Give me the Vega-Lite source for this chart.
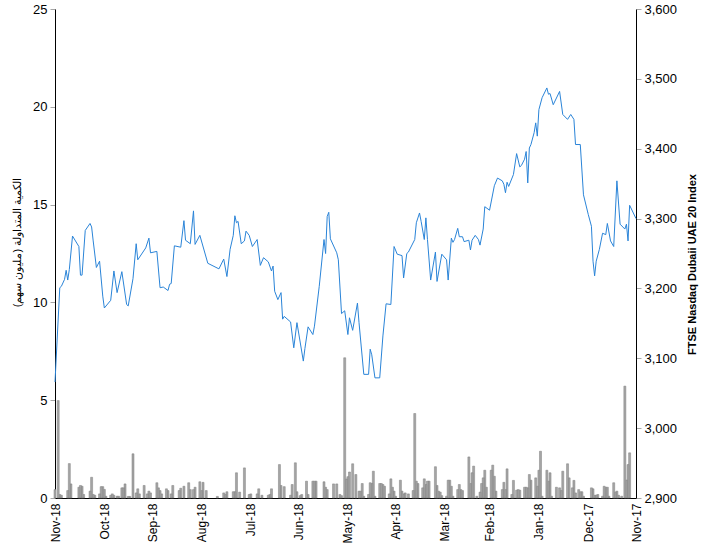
{
  "$schema": "https://vega.github.io/schema/vega-lite/v6.json",
  "width": 581,
  "height": 489,
  "autosize": {"type": "none"},
  "padding": {"left": 55, "top": 9, "right": 65, "bottom": 53},
  "config": {
    "view": {"stroke": null},
    "font": "Liberation Sans",
    "axis": {"grid": false, "labelColor": "#000000", "titleColor": "#000000", "domainColor": "#000000", "domainWidth": 1, "tickColor": "#a6a6a6"}
  },
  "datasets": {
    "index": [
      {"date": "2017-11-01", "index": 3300}, {"date": "2017-11-05", "index": 3319}, {"date": "2017-11-06", "index": 3268},
      {"date": "2017-11-07", "index": 3292}, {"date": "2017-11-08", "index": 3285}, {"date": "2017-11-11", "index": 3292},
      {"date": "2017-11-13", "index": 3354}, {"date": "2017-11-15", "index": 3260}, {"date": "2017-11-17", "index": 3268},
      {"date": "2017-11-19", "index": 3293}, {"date": "2017-11-20", "index": 3277}, {"date": "2017-11-22", "index": 3279},
      {"date": "2017-11-24", "index": 3256}, {"date": "2017-11-26", "index": 3239}, {"date": "2017-11-27", "index": 3218},
      {"date": "2017-11-28", "index": 3239}, {"date": "2017-11-29", "index": 3289}, {"date": "2017-12-01", "index": 3306},
      {"date": "2017-12-04", "index": 3334}, {"date": "2017-12-06", "index": 3406}, {"date": "2017-12-09", "index": 3406},
      {"date": "2017-12-10", "index": 3442}, {"date": "2017-12-12", "index": 3449}, {"date": "2017-12-14", "index": 3442},
      {"date": "2017-12-17", "index": 3449}, {"date": "2017-12-19", "index": 3482}, {"date": "2017-12-23", "index": 3463},
      {"date": "2017-12-25", "index": 3479}, {"date": "2017-12-26", "index": 3478}, {"date": "2017-12-27", "index": 3487},
      {"date": "2017-12-30", "index": 3473}, {"date": "2018-01-01", "index": 3456}, {"date": "2018-01-02", "index": 3418},
      {"date": "2018-01-03", "index": 3437}, {"date": "2018-01-04", "index": 3423}, {"date": "2018-01-06", "index": 3406},
      {"date": "2018-01-07", "index": 3401}, {"date": "2018-01-08", "index": 3351}, {"date": "2018-01-09", "index": 3396},
      {"date": "2018-01-10", "index": 3385}, {"date": "2018-01-12", "index": 3376}, {"date": "2018-01-13", "index": 3374},
      {"date": "2018-01-15", "index": 3393}, {"date": "2018-01-17", "index": 3363}, {"date": "2018-01-20", "index": 3346},
      {"date": "2018-01-21", "index": 3352}, {"date": "2018-01-22", "index": 3337}, {"date": "2018-01-23", "index": 3349},
      {"date": "2018-01-24", "index": 3354}, {"date": "2018-01-27", "index": 3358}, {"date": "2018-01-29", "index": 3347},
      {"date": "2018-02-01", "index": 3312}, {"date": "2018-02-04", "index": 3317}, {"date": "2018-02-05", "index": 3285},
      {"date": "2018-02-07", "index": 3262}, {"date": "2018-02-08", "index": 3270}, {"date": "2018-02-10", "index": 3276},
      {"date": "2018-02-12", "index": 3269}, {"date": "2018-02-13", "index": 3255}, {"date": "2018-02-14", "index": 3269},
      {"date": "2018-02-17", "index": 3267}, {"date": "2018-02-18", "index": 3274}, {"date": "2018-02-20", "index": 3274},
      {"date": "2018-02-21", "index": 3286}, {"date": "2018-02-23", "index": 3270}, {"date": "2018-02-24", "index": 3266},
      {"date": "2018-02-25", "index": 3272}, {"date": "2018-02-27", "index": 3212}, {"date": "2018-02-28", "index": 3241},
      {"date": "2018-03-03", "index": 3249}, {"date": "2018-03-06", "index": 3210}, {"date": "2018-03-07", "index": 3252},
      {"date": "2018-03-10", "index": 3212}, {"date": "2018-03-12", "index": 3270}, {"date": "2018-03-13", "index": 3301},
      {"date": "2018-03-14", "index": 3270}, {"date": "2018-03-16", "index": 3296}, {"date": "2018-03-17", "index": 3308},
      {"date": "2018-03-19", "index": 3294}, {"date": "2018-03-20", "index": 3270}, {"date": "2018-03-24", "index": 3252},
      {"date": "2018-03-25", "index": 3250}, {"date": "2018-03-27", "index": 3215}, {"date": "2018-03-28", "index": 3247},
      {"date": "2018-03-31", "index": 3249}, {"date": "2018-04-02", "index": 3260}, {"date": "2018-04-04", "index": 3177},
      {"date": "2018-04-07", "index": 3178}, {"date": "2018-04-09", "index": 3132}, {"date": "2018-04-11", "index": 3072},
      {"date": "2018-04-14", "index": 3072}, {"date": "2018-04-16", "index": 3105}, {"date": "2018-04-17", "index": 3113},
      {"date": "2018-04-18", "index": 3077}, {"date": "2018-04-21", "index": 3077}, {"date": "2018-04-24", "index": 3151},
      {"date": "2018-04-25", "index": 3179}, {"date": "2018-04-28", "index": 3140}, {"date": "2018-04-30", "index": 3158},
      {"date": "2018-05-01", "index": 3134}, {"date": "2018-05-03", "index": 3168}, {"date": "2018-05-05", "index": 3164},
      {"date": "2018-05-07", "index": 3241}, {"date": "2018-05-08", "index": 3251}, {"date": "2018-05-12", "index": 3271},
      {"date": "2018-05-13", "index": 3309}, {"date": "2018-05-14", "index": 3303}, {"date": "2018-05-15", "index": 3250},
      {"date": "2018-05-16", "index": 3270}, {"date": "2018-05-19", "index": 3203}, {"date": "2018-05-22", "index": 3146},
      {"date": "2018-05-23", "index": 3134}, {"date": "2018-05-26", "index": 3145}, {"date": "2018-05-28", "index": 3114},
      {"date": "2018-05-29", "index": 3096}, {"date": "2018-06-02", "index": 3151}, {"date": "2018-06-04", "index": 3115},
      {"date": "2018-06-06", "index": 3152}, {"date": "2018-06-10", "index": 3160}, {"date": "2018-06-11", "index": 3156},
      {"date": "2018-06-12", "index": 3194}, {"date": "2018-06-14", "index": 3184}, {"date": "2018-06-16", "index": 3196},
      {"date": "2018-06-17", "index": 3232}, {"date": "2018-06-18", "index": 3225}, {"date": "2018-06-20", "index": 3238},
      {"date": "2018-06-23", "index": 3244}, {"date": "2018-06-25", "index": 3233}, {"date": "2018-06-27", "index": 3270},
      {"date": "2018-06-30", "index": 3260}, {"date": "2018-07-02", "index": 3276}, {"date": "2018-07-04", "index": 3282},
      {"date": "2018-07-05", "index": 3268}, {"date": "2018-07-07", "index": 3264}, {"date": "2018-07-09", "index": 3296},
      {"date": "2018-07-10", "index": 3294}, {"date": "2018-07-11", "index": 3304}, {"date": "2018-07-12", "index": 3276},
      {"date": "2018-07-14", "index": 3256}, {"date": "2018-07-16", "index": 3217}, {"date": "2018-07-18", "index": 3242},
      {"date": "2018-07-21", "index": 3228}, {"date": "2018-07-28", "index": 3236}, {"date": "2018-08-02", "index": 3276},
      {"date": "2018-08-05", "index": 3263}, {"date": "2018-08-06", "index": 3311}, {"date": "2018-08-08", "index": 3264},
      {"date": "2018-08-11", "index": 3269}, {"date": "2018-08-12", "index": 3297}, {"date": "2018-08-14", "index": 3259},
      {"date": "2018-08-18", "index": 3261}, {"date": "2018-08-20", "index": 3207}, {"date": "2018-08-21", "index": 3206},
      {"date": "2018-08-22", "index": 3197}, {"date": "2018-08-25", "index": 3202}, {"date": "2018-08-27", "index": 3201},
      {"date": "2018-08-29", "index": 3253}, {"date": "2018-09-02", "index": 3251}, {"date": "2018-09-03", "index": 3272},
      {"date": "2018-09-05", "index": 3258}, {"date": "2018-09-10", "index": 3241}, {"date": "2018-09-11", "index": 3264},
      {"date": "2018-09-13", "index": 3214}, {"date": "2018-09-16", "index": 3175}, {"date": "2018-09-17", "index": 3177},
      {"date": "2018-09-20", "index": 3224}, {"date": "2018-09-23", "index": 3194}, {"date": "2018-09-25", "index": 3225},
      {"date": "2018-09-27", "index": 3183}, {"date": "2018-10-01", "index": 3172}, {"date": "2018-10-02", "index": 3189},
      {"date": "2018-10-04", "index": 3239}, {"date": "2018-10-06", "index": 3230}, {"date": "2018-10-08", "index": 3268},
      {"date": "2018-10-09", "index": 3288}, {"date": "2018-10-10", "index": 3293}, {"date": "2018-10-13", "index": 3283},
      {"date": "2018-10-15", "index": 3219}, {"date": "2018-10-16", "index": 3219}, {"date": "2018-10-17", "index": 3260},
      {"date": "2018-10-21", "index": 3275}, {"date": "2018-10-23", "index": 3227}, {"date": "2018-10-24", "index": 3212},
      {"date": "2018-10-25", "index": 3226}, {"date": "2018-10-26", "index": 3213}, {"date": "2018-10-28", "index": 3203},
      {"date": "2018-10-29", "index": 3201}, {"date": "2018-11-01", "index": 3066}
    ],
    "volume": [
      {"date": "2017-11-05", "volume": 2.31}, {"date": "2017-11-06", "volume": 1.71}, {"date": "2017-11-07", "volume": 0.92},
      {"date": "2017-11-08", "volume": 5.72}, {"date": "2017-11-10", "volume": 0.09}, {"date": "2017-11-12", "volume": 0.14},
      {"date": "2017-11-13", "volume": 0.35}, {"date": "2017-11-14", "volume": 0.3}, {"date": "2017-11-15", "volume": 0.78},
      {"date": "2017-11-18", "volume": 0.09}, {"date": "2017-11-19", "volume": 0.55}, {"date": "2017-11-20", "volume": 0.55},
      {"date": "2017-11-21", "volume": 0.6}, {"date": "2017-11-22", "volume": 0.09}, {"date": "2017-11-25", "volume": 0.18},
      {"date": "2017-11-26", "volume": 0.14}, {"date": "2017-11-27", "volume": 0.14}, {"date": "2017-11-28", "volume": 0.47},
      {"date": "2017-11-29", "volume": 0.52}, {"date": "2017-12-04", "volume": 0.09}, {"date": "2017-12-05", "volume": 0.32},
      {"date": "2017-12-06", "volume": 0.32}, {"date": "2017-12-07", "volume": 0.43}, {"date": "2017-12-09", "volume": 0.26},
      {"date": "2017-12-10", "volume": 0.9}, {"date": "2017-12-11", "volume": 0.52}, {"date": "2017-12-13", "volume": 1.03},
      {"date": "2017-12-14", "volume": 1.75}, {"date": "2017-12-17", "volume": 1.37}, {"date": "2017-12-18", "volume": 0.38},
      {"date": "2017-12-19", "volume": 0.52}, {"date": "2017-12-21", "volume": 0.55}, {"date": "2017-12-24", "volume": 0.09},
      {"date": "2017-12-25", "volume": 1.29}, {"date": "2017-12-26", "volume": 0.86}, {"date": "2017-12-27", "volume": 1.42},
      {"date": "2017-12-30", "volume": 0.09}, {"date": "2017-12-31", "volume": 2.39}, {"date": "2018-01-01", "volume": 1.42},
      {"date": "2018-01-02", "volume": 0.6}, {"date": "2018-01-03", "volume": 1.03}, {"date": "2018-01-06", "volume": 0.91},
      {"date": "2018-01-07", "volume": 1.2}, {"date": "2018-01-08", "volume": 0.52}, {"date": "2018-01-09", "volume": 0.55},
      {"date": "2018-01-10", "volume": 0.55}, {"date": "2018-01-13", "volume": 0.4}, {"date": "2018-01-14", "volume": 0.43},
      {"date": "2018-01-15", "volume": 0.4}, {"date": "2018-01-17", "volume": 0.9}, {"date": "2018-01-18", "volume": 0.18},
      {"date": "2018-01-21", "volume": 1.49}, {"date": "2018-01-22", "volume": 0.43}, {"date": "2018-01-23", "volume": 0.8},
      {"date": "2018-01-24", "volume": 0.43}, {"date": "2018-01-28", "volume": 0.35}, {"date": "2018-01-29", "volume": 1.11},
      {"date": "2018-01-30", "volume": 1.68}, {"date": "2018-01-31", "volume": 1.42}, {"date": "2018-02-03", "volume": 0.55},
      {"date": "2018-02-04", "volume": 1.42}, {"date": "2018-02-05", "volume": 1.03}, {"date": "2018-02-06", "volume": 0.74},
      {"date": "2018-02-07", "volume": 0.3}, {"date": "2018-02-09", "volume": 0.09}, {"date": "2018-02-11", "volume": 1.63},
      {"date": "2018-02-12", "volume": 1.29}, {"date": "2018-02-13", "volume": 0.74}, {"date": "2018-02-14", "volume": 2.1},
      {"date": "2018-02-18", "volume": 0.38}, {"date": "2018-02-19", "volume": 0.43}, {"date": "2018-02-20", "volume": 0.69},
      {"date": "2018-02-21", "volume": 0.43}, {"date": "2018-02-24", "volume": 0.09}, {"date": "2018-02-25", "volume": 0.6},
      {"date": "2018-02-26", "volume": 0.91}, {"date": "2018-02-27", "volume": 0.91}, {"date": "2018-02-28", "volume": 0.09},
      {"date": "2018-03-03", "volume": 0.12}, {"date": "2018-03-04", "volume": 0.3}, {"date": "2018-03-05", "volume": 0.35},
      {"date": "2018-03-06", "volume": 0.64}, {"date": "2018-03-07", "volume": 1.6}, {"date": "2018-03-11", "volume": 0.86},
      {"date": "2018-03-12", "volume": 0.86}, {"date": "2018-03-13", "volume": 0.69}, {"date": "2018-03-14", "volume": 0.98},
      {"date": "2018-03-15", "volume": 0.52}, {"date": "2018-03-18", "volume": 0.74}, {"date": "2018-03-19", "volume": 0.86},
      {"date": "2018-03-20", "volume": 4.32}, {"date": "2018-03-21", "volume": 0.38}, {"date": "2018-03-24", "volume": 0.21},
      {"date": "2018-03-26", "volume": 0.26}, {"date": "2018-03-27", "volume": 0.21}, {"date": "2018-03-28", "volume": 0.35},
      {"date": "2018-03-29", "volume": 0.91}, {"date": "2018-04-01", "volume": 0.09}, {"date": "2018-04-02", "volume": 0.35},
      {"date": "2018-04-03", "volume": 0.55}, {"date": "2018-04-04", "volume": 0.98}, {"date": "2018-04-05", "volume": 0.21},
      {"date": "2018-04-08", "volume": 0.6}, {"date": "2018-04-09", "volume": 0.69}, {"date": "2018-04-10", "volume": 0.74},
      {"date": "2018-04-11", "volume": 0.74}, {"date": "2018-04-14", "volume": 0.09}, {"date": "2018-04-15", "volume": 1.37},
      {"date": "2018-04-16", "volume": 0.74}, {"date": "2018-04-17", "volume": 0.78}, {"date": "2018-04-18", "volume": 0.18},
      {"date": "2018-04-21", "volume": 0.09}, {"date": "2018-04-22", "volume": 0.74}, {"date": "2018-04-23", "volume": 0.35},
      {"date": "2018-04-24", "volume": 0.35}, {"date": "2018-04-26", "volume": 1.2}, {"date": "2018-04-28", "volume": 1.75},
      {"date": "2018-04-30", "volume": 1.33}, {"date": "2018-05-01", "volume": 1.09}, {"date": "2018-05-02", "volume": 0.97},
      {"date": "2018-05-03", "volume": 7.17}, {"date": "2018-05-05", "volume": 0.12}, {"date": "2018-05-06", "volume": 0.18},
      {"date": "2018-05-08", "volume": 0.72}, {"date": "2018-05-10", "volume": 0.72}, {"date": "2018-05-14", "volume": 0.43},
      {"date": "2018-05-15", "volume": 0.55}, {"date": "2018-05-16", "volume": 0.83}, {"date": "2018-05-21", "volume": 0.86},
      {"date": "2018-05-22", "volume": 0.86}, {"date": "2018-05-23", "volume": 0.86}, {"date": "2018-05-26", "volume": 0.18},
      {"date": "2018-05-27", "volume": 0.86}, {"date": "2018-05-30", "volume": 0.18}, {"date": "2018-05-31", "volume": 0.12},
      {"date": "2018-06-02", "volume": 0.32}, {"date": "2018-06-03", "volume": 1.8}, {"date": "2018-06-05", "volume": 0.69},
      {"date": "2018-06-06", "volume": 0.14}, {"date": "2018-06-10", "volume": 0.58}, {"date": "2018-06-12", "volume": 0.64},
      {"date": "2018-06-13", "volume": 1.71}, {"date": "2018-06-18", "volume": 0.47}, {"date": "2018-06-19", "volume": 0.18},
      {"date": "2018-06-20", "volume": 0.14}, {"date": "2018-06-24", "volume": 0.14}, {"date": "2018-06-26", "volume": 0.47},
      {"date": "2018-06-27", "volume": 0.21}, {"date": "2018-07-01", "volume": 0.21}, {"date": "2018-07-02", "volume": 0.18},
      {"date": "2018-07-05", "volume": 1.54}, {"date": "2018-07-08", "volume": 0.3}, {"date": "2018-07-10", "volume": 1.29},
      {"date": "2018-07-11", "volume": 0.32}, {"date": "2018-07-12", "volume": 0.32}, {"date": "2018-07-16", "volume": 0.32},
      {"date": "2018-07-17", "volume": 0.18}, {"date": "2018-07-18", "volume": 0.26}, {"date": "2018-07-22", "volume": 0.08},
      {"date": "2018-07-29", "volume": 0.38}, {"date": "2018-07-31", "volume": 0.8}, {"date": "2018-08-01", "volume": 0.38},
      {"date": "2018-08-02", "volume": 0.83}, {"date": "2018-08-05", "volume": 0.55}, {"date": "2018-08-06", "volume": 0.43},
      {"date": "2018-08-08", "volume": 0.43}, {"date": "2018-08-09", "volume": 0.78}, {"date": "2018-08-12", "volume": 0.6},
      {"date": "2018-08-14", "volume": 0.5}, {"date": "2018-08-15", "volume": 0.38}, {"date": "2018-08-19", "volume": 0.64},
      {"date": "2018-08-20", "volume": 0.21}, {"date": "2018-08-22", "volume": 0.38}, {"date": "2018-08-23", "volume": 0.47},
      {"date": "2018-08-26", "volume": 0.21}, {"date": "2018-08-27", "volume": 0.38}, {"date": "2018-08-28", "volume": 0.52},
      {"date": "2018-08-29", "volume": 0.78}, {"date": "2018-09-02", "volume": 0.26}, {"date": "2018-09-03", "volume": 0.35},
      {"date": "2018-09-04", "volume": 0.21}, {"date": "2018-09-06", "volume": 0.64}, {"date": "2018-09-09", "volume": 0.21},
      {"date": "2018-09-10", "volume": 0.47}, {"date": "2018-09-11", "volume": 0.26}, {"date": "2018-09-13", "volume": 2.26},
      {"date": "2018-09-15", "volume": 0.08}, {"date": "2018-09-16", "volume": 0.08}, {"date": "2018-09-18", "volume": 0.72},
      {"date": "2018-09-19", "volume": 0.52}, {"date": "2018-09-20", "volume": 0.52}, {"date": "2018-09-22", "volume": 0.09},
      {"date": "2018-09-23", "volume": 0.09}, {"date": "2018-09-25", "volume": 0.14}, {"date": "2018-09-26", "volume": 0.21},
      {"date": "2018-09-27", "volume": 0.14}, {"date": "2018-09-30", "volume": 0.09}, {"date": "2018-10-01", "volume": 0.44},
      {"date": "2018-10-02", "volume": 0.58}, {"date": "2018-10-03", "volume": 0.58}, {"date": "2018-10-04", "volume": 0.21},
      {"date": "2018-10-07", "volume": 0.14}, {"date": "2018-10-08", "volume": 0.18}, {"date": "2018-10-09", "volume": 1.06},
      {"date": "2018-10-10", "volume": 0.35}, {"date": "2018-10-14", "volume": 0.18}, {"date": "2018-10-15", "volume": 0.6},
      {"date": "2018-10-16", "volume": 0.64}, {"date": "2018-10-17", "volume": 0.55}, {"date": "2018-10-22", "volume": 0.72},
      {"date": "2018-10-23", "volume": 1.76}, {"date": "2018-10-24", "volume": 0.38}, {"date": "2018-10-28", "volume": 0.14},
      {"date": "2018-10-29", "volume": 0.18}, {"date": "2018-10-30", "volume": 4.98}, {"date": "2018-11-01", "volume": 0.43}
    ]
  },
  "layer": [
    {
      "data": {"name": "volume"},
      "mark": {"type": "bar", "width": 2, "fill": "#a6a6a6", "stroke": "#7f7f7f", "strokeWidth": 0.5},
      "encoding": {
        "x": {
          "field": "date", "type": "temporal",
          "scale": {"type": "utc", "padding": 0, "domain": [{"year": 2017, "month": 11, "date": 1, "utc": true}, {"year": 2018, "month": 11, "date": 1, "utc": true}], "reverse": true},
          "axis": {"title": null, "format": "%b-%y", "tickCount": {"interval": "month", "step": 1}, "labelAngle": -90, "labelAlign": "right", "labelBaseline": "middle", "labelFontSize": 12, "labelPadding": 5, "ticks": false, "labelOverlap": false, "labelFlush": false, "labelBound": false}
        },
        "y": {
          "field": "volume", "type": "quantitative",
          "scale": {"domain": [0, 25], "nice": false},
          "axis": {"title": "الكمية المتداولة (مليون سهم)", "values": [0, 5, 10, 15, 20, 25], "labelFontSize": 13, "tickSize": 5, "labelPadding": 3, "titleFontSize": 11, "titleFontWeight": "normal", "titleX": -38, "titleY": 233, "titleAngle": -90, "titleAlign": "center", "titleBaseline": "middle"}
        }
      }
    },
    {
      "data": {"name": "index"},
      "mark": {"type": "line", "color": "#2a84d8", "strokeWidth": 1},
      "encoding": {
        "x": {"field": "date", "type": "temporal"},
        "y": {
          "field": "index", "type": "quantitative",
          "scale": {"domain": [2900, 3600], "nice": false, "zero": false},
          "axis": {"orient": "right", "title": "FTSE Nasdaq Dubaii UAE 20 Index", "values": [2900, 3000, 3100, 3200, 3300, 3400, 3500, 3600], "format": ",.0f", "labelFontSize": 13, "tickSize": 5, "labelPadding": 3, "titleFontSize": 11, "titleFontWeight": "bold", "titleX": 56, "titleY": 255, "titleAngle": -90, "titleAlign": "center", "titleBaseline": "middle"}
        }
      }
    }
  ],
  "resolve": {"scale": {"y": "independent"}}
}
